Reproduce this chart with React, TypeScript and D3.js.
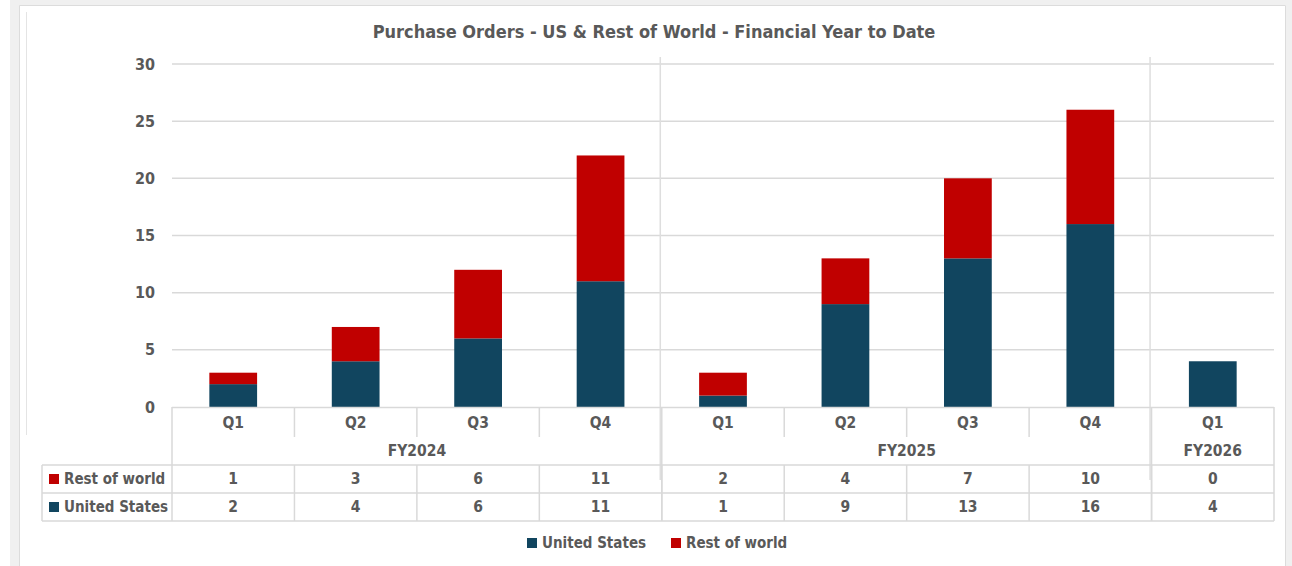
import React from "react";
import * as d3 from "d3";

const quarters = ["Q1", "Q2", "Q3", "Q4", "Q1", "Q2", "Q3", "Q4", "Q1"];
const fiscalYears = ["FY2024", "FY2025", "FY2026"];
const yearSpans = [4, 4, 1];
const unitedStates = [2, 4, 6, 11, 1, 9, 13, 16, 4];
const restOfWorld = [1, 3, 6, 11, 2, 4, 7, 10, 0];
const yTicks = [0, 5, 10, 15, 20, 25, 30];
const seriesNames = ["United States", "Rest of world"];
const seriesColors = ["#11455f", "#c00000"];

const W = 1292;
const H = 566;
const FONT = "'Liberation Sans Narrow', 'Arial Narrow', 'DejaVu Sans Condensed', sans-serif";
const TXT = "#595959";
const GRID = "#d9d9d9";
const FS = 15.5;

export default function App() {
  const left = 172;
  const right = 1274;
  const top = 64;
  const bottom = 407;
  const idx = quarters.map((_, i) => i);
  const x = d3.scaleBand<number>().domain(idx).range([left, right]).padding(0);
  const y = d3.scaleLinear().domain([0, 30]).range([bottom, top]);
  const bw = x.bandwidth();
  const barW = bw * 0.39;
  const stacked = d3
    .stack<number>()
    .keys(["us", "row"])
    .value((i, k) => (k === "us" ? unitedStates[i] : restOfWorld[i]))(idx);

  const rowTop = 465;
  const rowH = 28;
  const tableLeft = 42;

  const groupStarts: number[] = [];
  let acc = 0;
  yearSpans.forEach((s) => {
    groupStarts.push(acc);
    acc += s;
  });

  const rows = [
    { name: seriesNames[1], color: seriesColors[1], values: restOfWorld },
    { name: seriesNames[0], color: seriesColors[0], values: unitedStates },
  ];

  return (
    <svg width={W} height={H} style={{ position: "absolute", left: 0, top: 0, display: "block" }}>
      <rect x={0} y={0} width={W} height={H} fill="#ffffff" />
      <rect x={10} y={0} width={10} height={H} fill="#f0f0f0" />
      <rect x={10} y={0} width={W - 10} height={5} fill="#f0f0f0" />
      <rect x={1286} y={0} width={6} height={H} fill="#f0f0f0" />
      <line x1={19.5} y1={5.5} x2={1285.5} y2={5.5} stroke="#dcdcdc" />
      <line x1={19.5} y1={5.5} x2={19.5} y2={H} stroke="#dcdcdc" />
      <line x1={1285.5} y1={5.5} x2={1285.5} y2={H} stroke="#dcdcdc" />
      <line x1={26.5} y1={12} x2={26.5} y2={435} stroke="#e4e4e4" />

      <text x={654} y={31} textAnchor="middle" dominantBaseline="central" fontFamily={FONT} fontWeight="bold" fontSize={18} fill={TXT}>
        Purchase Orders - US &amp; Rest of World - Financial Year to Date
      </text>

      {yTicks.map((t) => (
        <g key={t}>
          {t > 0 && <line x1={left} x2={right} y1={y(t)} y2={y(t)} stroke={GRID} strokeWidth={1.5} />}
          <text x={155} y={y(t)} textAnchor="end" dominantBaseline="central" fontFamily={FONT} fontWeight="bold" fontSize={16} fill={TXT}>
            {t}
          </text>
        </g>
      ))}

      {groupStarts.slice(1).map((g) => (
        <line key={"gd" + g} x1={(x(g) as number) - 1.5} x2={(x(g) as number) - 1.5} y1={57} y2={480} stroke="#dedede" strokeWidth={1.5} />
      ))}

      {stacked.map((layer, li) => (
        <g key={layer.key} fill={seriesColors[li]}>
          {layer.map((d, i) => (
            <rect
              key={i}
              x={(x(i) as number) + (bw - barW) / 2}
              y={y(d[1])}
              width={barW}
              height={Math.max(0, y(d[0]) - y(d[1]))}
            />
          ))}
        </g>
      ))}

      <line x1={left} x2={right} y1={bottom + 0.5} y2={bottom + 0.5} stroke={GRID} strokeWidth={1.5} />

      {idx.slice(1).map((i) => (
        <line key={"qs" + i} x1={x(i) as number} x2={x(i) as number} y1={bottom} y2={groupStarts.includes(i) ? rowTop + 2 * rowH : 437} stroke={GRID} strokeWidth={1.5} />
      ))}
      <line x1={left} x2={left} y1={bottom} y2={rowTop + 2 * rowH} stroke={GRID} strokeWidth={1.5} />
      <line x1={right} x2={right} y1={bottom} y2={rowTop + 2 * rowH} stroke={GRID} strokeWidth={1.5} />
      <line x1={tableLeft} x2={tableLeft} y1={rowTop} y2={rowTop + 2 * rowH} stroke={GRID} strokeWidth={1.5} />
      {[0, 1, 2].map((r) => (
        <line key={"hr" + r} x1={tableLeft} x2={right} y1={rowTop + r * rowH} y2={rowTop + r * rowH} stroke={GRID} strokeWidth={1.5} />
      ))}
      {idx.slice(1).map((i) => (
        <line key={"vs" + i} x1={x(i) as number} x2={x(i) as number} y1={rowTop} y2={rowTop + 2 * rowH} stroke={GRID} strokeWidth={1.5} />
      ))}

      {quarters.map((q, i) => (
        <text key={"q" + i} x={(x(i) as number) + bw / 2} y={423} textAnchor="middle" dominantBaseline="central" fontFamily={FONT} fontWeight="bold" fontSize={FS} fill={TXT}>
          {q}
        </text>
      ))}
      {fiscalYears.map((fy, gi) => {
        const x0 = x(groupStarts[gi]) as number;
        const x1 = x0 + yearSpans[gi] * bw;
        return (
          <text key={fy} x={(x0 + x1) / 2} y={451} textAnchor="middle" dominantBaseline="central" fontFamily={FONT} fontWeight="bold" fontSize={FS} fill={TXT}>
            {fy}
          </text>
        );
      })}

      {rows.map((r, ri) => {
        const cy = rowTop + ri * rowH + rowH / 2;
        return (
          <g key={r.name}>
            <rect x={49} y={cy - 5} width={10} height={10} fill={r.color} />
            <text x={64} y={cy} dominantBaseline="central" fontFamily={FONT} fontWeight="bold" fontSize={15} fill={TXT}>
              {r.name}
            </text>
            {r.values.map((v, i) => (
              <text key={i} x={(x(i) as number) + bw / 2} y={cy} textAnchor="middle" dominantBaseline="central" fontFamily={FONT} fontWeight="bold" fontSize={FS} fill={TXT}>
                {v}
              </text>
            ))}
          </g>
        );
      })}

      {[
        { name: seriesNames[0], color: seriesColors[0], x: 527 },
        { name: seriesNames[1], color: seriesColors[1], x: 671 },
      ].map((l) => (
        <g key={l.name}>
          <rect x={l.x} y={538} width={10} height={10} fill={l.color} />
          <text x={l.x + 15} y={543} dominantBaseline="central" fontFamily={FONT} fontWeight="bold" fontSize={15} fill={TXT}>
            {l.name}
          </text>
        </g>
      ))}
    </svg>
  );
}
